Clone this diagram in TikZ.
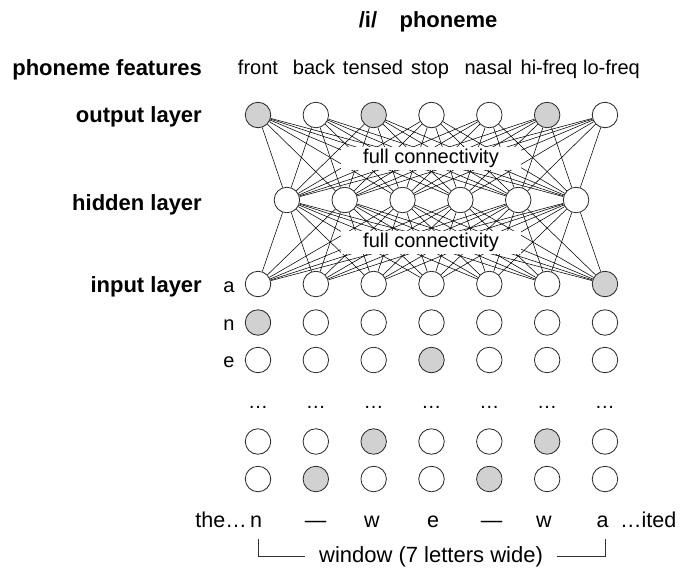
\documentclass[tikz,border=0pt]{standalone}
\usepackage{fontspec}
\setmainfont{Liberation Sans}
\begin{document}
\begin{tikzpicture}[x=1pt,y=-1pt,
  unit/.style={circle,draw=black!85,line width=0.8pt,minimum size=25.5pt,inner sep=0pt,fill=white},
  on/.style={unit,fill=black!18},
  conn/.style={line width=0.55pt,black},
  lbl/.style={font=\fontsize{22}{26}\selectfont\bfseries,anchor=base east,inner sep=0pt},
  ttl/.style={font=\fontsize{22}{26}\selectfont\bfseries,anchor=base,inner sep=0pt},
  txt/.style={font=\fontsize{20}{24}\selectfont,anchor=base,inner sep=0pt},
  btxt/.style={font=\fontsize{21.5}{24}\selectfont,anchor=base,inner sep=0pt},
  fc/.style={fill=white,font=\fontsize{20}{24}\selectfont,minimum width=180pt,minimum height=23pt,inner sep=0pt},
  brk/.style={line width=0.8pt,black!80}
]
\useasboundingbox (0,0) rectangle (684,570);

% title and feature labels
\node[ttl] (slash) at (368,27) {/i/};
\node[ttl] (phon) at (448.5,27) {phoneme};
\node[lbl] (lfeat) at (202,75) {phoneme features};
\node[txt] (f1) at (258,74) {front};
\node[txt] (f2) at (314,74) {back};
\node[txt] (f3) at (373,74) {tensed};
\node[txt] (f4) at (430,74) {stop};
\node[txt] (f5) at (488.5,74) {nasal};
\node[txt] (f6) at (549,74) {hi-freq};
\node[txt] (f7) at (611.5,74) {lo-freq};

% layer labels
\node[lbl] (lout) at (202,122) {output layer};
\node[lbl] (lhid) at (202,210) {hidden layer};
\node[lbl] (linp) at (202,292) {input layer};

% output layer
\foreach \i/\s in {1/on,2/unit,3/on,4/unit,5/unit,6/on,7/unit}
  \node[\s] (o\i) at ({258+(\i-1)*57.83},115) {};
% hidden layer
\foreach \j in {1,...,6}
  \node[unit] (h\j) at ({286.9+(\j-1)*57.83},200) {};
% input layer, first row
\foreach \i/\s in {1/unit,2/unit,3/unit,4/unit,5/unit,6/unit,7/on}
  \node[\s] (a\i) at ({258+(\i-1)*57.83},284) {};

% connections
\foreach \j in {1,...,6}
  \foreach \i in {1,...,7}
  {
    \draw[conn] (h\j) -- (o\i);
    \draw[conn] (h\j) -- (a\i);
  }

% full connectivity boxes
\node[fc] (fcu) at (431,158) {full connectivity};
\node[fc] (fcl) at (431,242) {full connectivity};

% further input rows
\foreach \i/\s in {1/on,2/unit,3/unit,4/unit,5/unit,6/unit,7/unit}
  \node[\s] (n\i) at ({258+(\i-1)*57.83},322.5) {};
\foreach \i/\s in {1/unit,2/unit,3/unit,4/on,5/unit,6/unit,7/unit}
  \node[\s] (e\i) at ({258+(\i-1)*57.83},360) {};
\foreach \i in {1,...,7}
  \node[txt] (d\i) at ({258+(\i-1)*57.83},408) {…};
\foreach \i/\s in {1/unit,2/unit,3/on,4/unit,5/unit,6/on,7/unit}
  \node[\s] (p\i) at ({258+(\i-1)*57.83},441.5) {};
\foreach \i/\s in {1/unit,2/on,3/unit,4/unit,5/on,6/unit,7/unit}
  \node[\s] (q\i) at ({258+(\i-1)*57.83},479) {};

% row letters
\node[txt] (la) at (229,292) {a};
\node[txt] (ln) at (229,330.5) {n};
\node[txt] (le) at (229,367.5) {e};

% window letters
\node[btxt] (w1) at (256,527) {n};
\node[btxt] (w2) at (315.5,527) {—};
\node[btxt] (w3) at (372,527) {w};
\node[btxt] (w4) at (433,527) {e};
\node[btxt] (w5) at (491.5,527) {—};
\node[btxt] (w6) at (544,527) {w};
\node[btxt] (w7) at (602.5,527) {a};
\node[btxt,anchor=base east] (the) at (247,527) {the…};
\node[btxt,anchor=base west] (ited) at (620,527) {…ited};

% window bracket
\node[txt,font=\fontsize{22}{24}\selectfont] (win) at (431,562) {window (7 letters wide)};
\coordinate (bl) at (258,539);
\coordinate (br) at (605,539);
\draw[brk] (bl) |- ([xshift=-14pt]win.west);
\draw[brk] (br) |- ([xshift=14pt]win.east);
\end{tikzpicture}
\end{document}
